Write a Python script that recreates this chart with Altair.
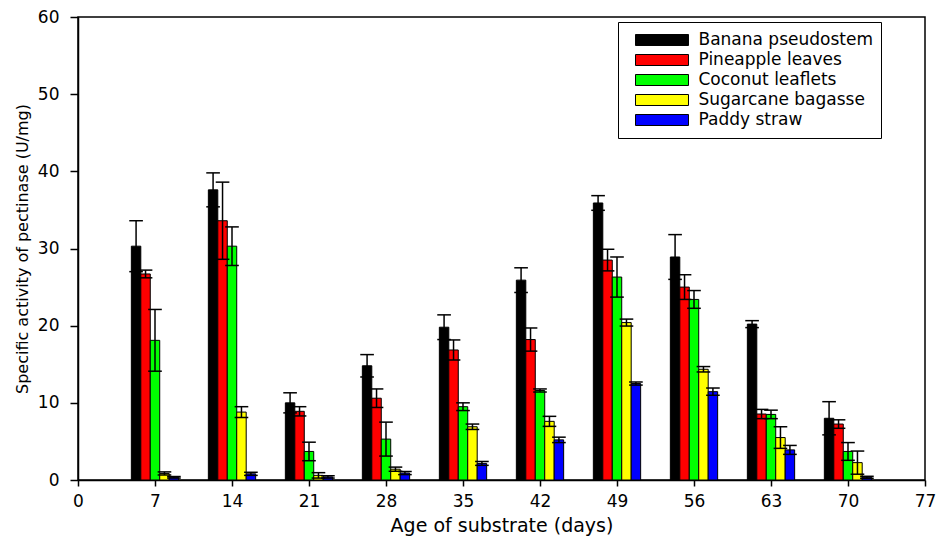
import altair as alt
import pandas as pd

# Substrate age (days) at which pectinase activity was measured
days = [7, 14, 21, 28, 35, 42, 49, 56, 63, 70]

substrates = [
    "Banana pseudostem",
    "Pineapple leaves",
    "Coconut leaflets",
    "Sugarcane bagasse",
    "Paddy straw",
]
colors = ["#000000", "#ff0000", "#00ff00", "#ffff00", "#0000ff"]

# Mean specific activity (U/mg) and standard deviation per substrate
banana = [30.3, 37.6, 10.0, 14.8, 19.8, 25.9, 35.9, 28.9, 20.2, 8.0]
banana_sd = [3.3, 2.2, 1.3, 1.45, 1.6, 1.6, 0.95, 2.9, 0.45, 2.15]
pineapple = [26.7, 33.6, 8.9, 10.6, 16.85, 18.2, 28.5, 25.0, 8.55, 7.25]
pineapple_sd = [0.5, 5.0, 0.6, 1.2, 1.3, 1.5, 1.4, 1.6, 0.6, 0.55]
coconut = [18.1, 30.3, 3.7, 5.3, 9.5, 11.6, 26.3, 23.4, 8.5, 3.7]
coconut_sd = [4.0, 2.5, 1.2, 2.2, 0.5, 0.2, 2.6, 1.15, 0.55, 1.15]
sugarcane = [0.85, 8.8, 0.6, 1.4, 6.9, 7.6, 20.4, 14.35, 5.5, 2.25]
sugarcane_sd = [0.2, 0.7, 0.35, 0.27, 0.35, 0.65, 0.45, 0.35, 1.4, 1.5]
paddy = [0.35, 0.8, 0.4, 0.9, 2.15, 5.2, 12.5, 11.45, 3.9, 0.35]
paddy_sd = [0.1, 0.2, 0.15, 0.2, 0.25, 0.35, 0.2, 0.47, 0.58, 0.13]

x_ticks = [0, 7, 14, 21, 28, 35, 42, 49, 56, 63, 70, 77]
y_ticks = [0, 10, 20, 30, 40, 50, 60]

means = [banana, pineapple, coconut, sugarcane, paddy]
sds = [banana_sd, pineapple_sd, coconut_sd, sugarcane_sd, paddy_sd]

rows = []
for k, (name, m, s) in enumerate(zip(substrates, means, sds)):
    for d, v, e in zip(days, m, s):
        rows.append({"day": d, "substrate": name, "k": k, "activity": v, "sd": e})
df = pd.DataFrame(rows)

FONT = "DejaVu Sans"
BAR_W = 0.86   # bar width in days
CAP_HALF = 0.62  # half width of error-bar caps in days

# rectangle legend swatch
SWATCH = "M-2.944,-0.611H2.944V0.611H-2.944Z"

x_scale = alt.Scale(domain=[0, 77], nice=False, zero=False)
y_scale = alt.Scale(domain=[0, 60], nice=False)

x_axis = alt.Axis(
    values=x_ticks, title="Age of substrate (days)", grid=False,
    tickSize=6, labelPadding=7, labelFontSize=17, titleFontSize=19,
    titleY=51, titleBaseline="alphabetic", labelFlush=False,
)
y_axis = alt.Axis(
    values=y_ticks, title="Specific activity of pectinase (U/mg)", grid=False,
    tickSize=8, labelPadding=11, labelFontSize=17, titleFontSize=16,
    titlePadding=7, labelFlush=False,
)

base = alt.Chart(df).transform_calculate(
    x0=f"datum.day + (datum.k - 2.5) * {BAR_W}",
    x1=f"datum.day + (datum.k - 1.5) * {BAR_W}",
    xc=f"datum.day + (datum.k - 2) * {BAR_W}",
    cl=f"datum.day + (datum.k - 2) * {BAR_W} - {CAP_HALF}",
    cr=f"datum.day + (datum.k - 2) * {BAR_W} + {CAP_HALF}",
    lo="datum.activity - datum.sd",
    hi="datum.activity + datum.sd",
)

bars = base.mark_bar(stroke="black", strokeWidth=1, opacity=1).encode(
    x=alt.X("x0:Q", scale=x_scale, axis=x_axis),
    x2="x1:Q",
    y=alt.Y("activity:Q", scale=y_scale, axis=y_axis),
    y2=alt.datum(0),
    color=alt.Color(
        "substrate:N",
        scale=alt.Scale(domain=substrates, range=colors),
        legend=alt.Legend(
            orient="none", legendX=540, legendY=5, title=None,
            symbolType=SWATCH, symbolSize=324, symbolStrokeColor="black",
            symbolStrokeWidth=1, symbolOpacity=1,
            labelFont=FONT, labelFontSize=17, labelColor="black",
            labelLimit=400, padding=8, strokeColor="black", fillColor="white",
            clipHeight=20, rowPadding=0, symbolOffset=26.5, labelOffset=27,
        ),
    ),
)

whiskers = base.mark_rule(color="black", strokeWidth=1.5).encode(
    x=alt.X("xc:Q", scale=x_scale, axis=x_axis),
    y=alt.Y("lo:Q", scale=y_scale, axis=y_axis),
    y2="hi:Q",
)

caps_hi = base.mark_rule(color="black", strokeWidth=1.5).encode(
    x=alt.X("cl:Q", scale=x_scale, axis=x_axis),
    x2="cr:Q",
    y=alt.Y("hi:Q", scale=y_scale, axis=y_axis),
)

caps_lo = base.mark_rule(color="black", strokeWidth=1.5).encode(
    x=alt.X("cl:Q", scale=x_scale, axis=x_axis),
    x2="cr:Q",
    y=alt.Y("lo:Q", scale=y_scale, axis=y_axis),
)

chart = (
    alt.layer(bars, whiskers, caps_hi, caps_lo)
    .properties(
        width=847,
        height=463,
        autosize=alt.AutoSizeParams(type="none"),
        padding={"left": 78, "top": 17, "right": 14, "bottom": 56},
        background="white",
    )
    .configure_view(stroke="black", strokeWidth=1.5)
    .configure_axis(
        domainColor="black", domainWidth=1.5, tickColor="black", tickWidth=1.5,
        labelColor="black", titleColor="black", labelFont=FONT, titleFont=FONT,
        titleFontWeight="normal",
    )
)

chart.save("out.html", embed_options={"renderer": "svg", "actions": False})
